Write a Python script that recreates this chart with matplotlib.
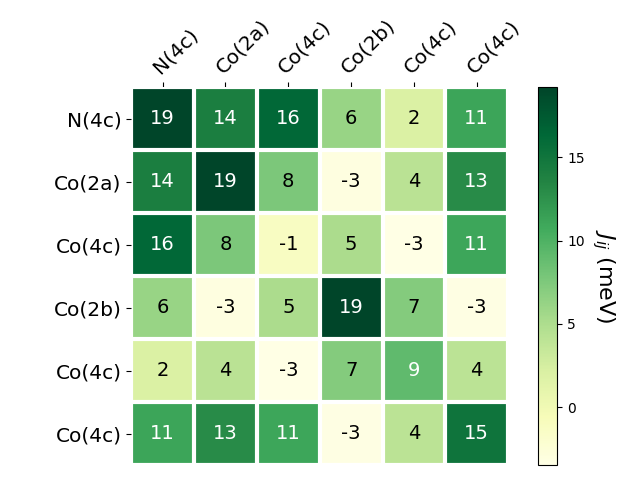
#!/usr/bin/env python

import numpy as np
import matplotlib.pyplot as plt

# site labels and exchange couplings (meV)
sites = ['N(4c)', 'Co(2a)', 'Co(4c)', 'Co(2b)', 'Co(4c)', 'Co(4c)']

row_n4c = [19.2, 14.1, 16.2, 6.1, 2.0, 11.1]
row_co2a = [14.1, 19.2, 7.6, -3.2, 4.2, 13.0]
row_co4c_1 = [16.2, 7.6, -1.2, 5.1, -3.4, 11.0]
row_co2b = [6.1, -3.2, 5.1, 19.2, 7.2, -3.3]
row_co4c_2 = [2.0, 4.2, -3.4, 7.2, 9.1, 4.1]
row_co4c_3 = [11.1, 13.0, 11.0, -3.3, 4.1, 15.1]
vmin = -3.47


def plot_heatmap(data, labels):
    fig = plt.figure(figsize=(6.4, 4.8), dpi=100)
    ax = fig.add_axes([0.205, 0.031, 0.589, 0.7875])
    cax = fig.add_axes([0.841, 0.031, 0.030, 0.7875])

    im = ax.imshow(data, cmap='YlGn', vmin=vmin, aspect='auto')
    cbar = fig.colorbar(im, cax=cax)
    cbar.ax.set_ylabel('$J_{ij}$ (meV)', rotation=-90, va='bottom',
                       fontsize=16)

    ax.set_xticks(np.arange(len(labels)))
    ax.set_yticks(np.arange(len(labels)))
    ax.set_xticklabels(labels, fontsize=14.5)
    ax.set_yticklabels(labels, fontsize=14.5)
    ax.tick_params(top=True, bottom=False, labeltop=True, labelbottom=False)
    plt.setp(ax.get_xticklabels(), rotation=45, ha='left',
             rotation_mode='anchor')

    for spine in ax.spines.values():
        spine.set_visible(False)
    ax.set_xticks(np.arange(len(labels) + 1) - .5, minor=True)
    ax.set_yticks(np.arange(len(labels) + 1) - .5, minor=True)
    ax.grid(which='minor', color='w', linestyle='-', linewidth=3)
    ax.tick_params(which='minor', bottom=False, left=False, top=False)

    threshold = im.norm(data.max()) / 2.
    for i in range(data.shape[0]):
        for j in range(data.shape[1]):
            color = 'white' if im.norm(data[i, j]) > threshold else 'black'
            ax.text(j, i, '{:.0f}'.format(data[i, j]), ha='center',
                    va='center', color=color, fontsize=14)

    fig.savefig('out.png')


if __name__ == '__main__':
    data = np.array([row_n4c, row_co2a, row_co4c_1, row_co2b,
                     row_co4c_2, row_co4c_3])
    plot_heatmap(data, sites)
